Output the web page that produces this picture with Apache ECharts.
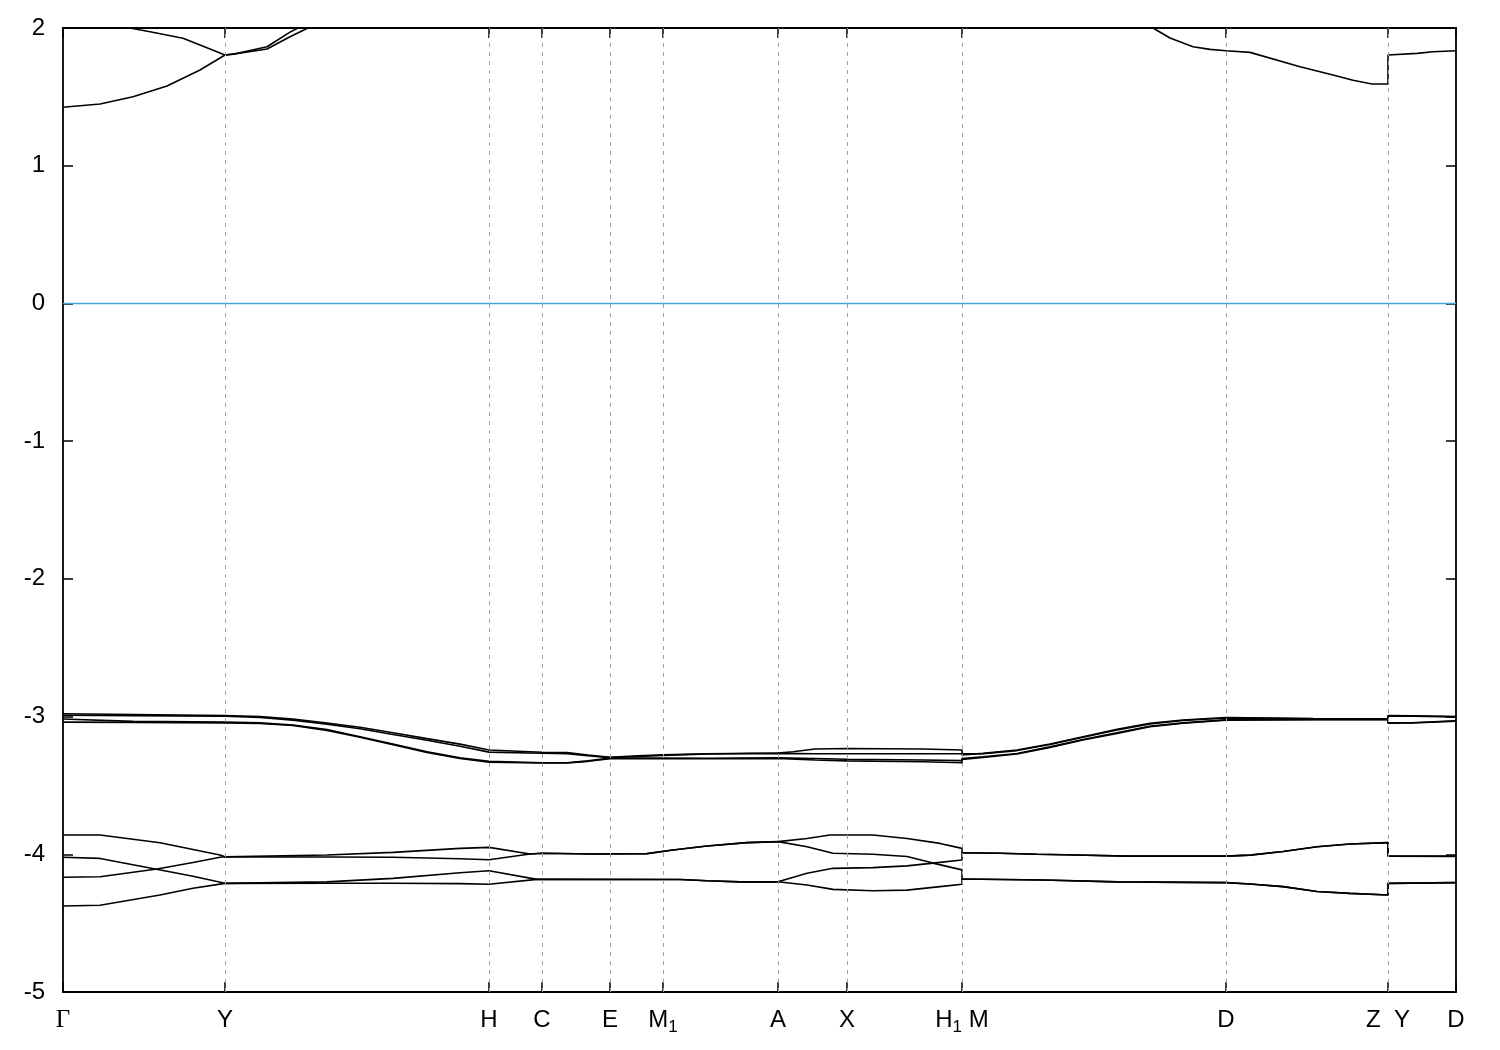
<!DOCTYPE html>
<html>
<head>
<meta charset="utf-8">
<script src="https://cdn.jsdelivr.net/npm/echarts@6/dist/echarts.min.js"></script>
<style>
html,body{margin:0;padding:0;background:#fff;}
#chart{width:1500px;height:1050px;}
</style>
</head>
<body>
<div id="chart"></div>
<script>
// k-path positions and labels
const kPos = [0, 162, 426, 479, 547, 600, 715, 784, 899, 1163, 1325, 1393];
const kLabels = ['Γ', 'Y', 'H', 'C', 'E', 'M_1', 'A', 'X', 'H_1 M', 'D', 'Z  Y', 'D'];
const yTicks = [-5, -4, -3, -2, -1, 0, 1, 2];

// upper (conduction) bands
const up1 = [[0,1.424],[37,1.448],[70,1.501],[104,1.579],[137,1.695],[162,1.804],[170,1.81],[204,1.847],[227,1.937],[245,2.0],[262,2.1]];
const up2 = [[0,2.0],[67,2.0],[87,1.973],[120,1.925],[137,1.877],[162,1.804],[170,1.81],[204,1.864],[227,1.97],[235,2.0],[250,2.1]];
const up3 = [[1060,2.15],[1090,2.0],[1107,1.927],[1130,1.864],[1147,1.845],[1163,1.835],[1187,1.823],[1237,1.719],[1270,1.659],[1290,1.620],[1309,1.593],[1325,1.593],[1325,1.804],[1354,1.816],[1370,1.828],[1393,1.835]];

// bands near -3 eV
const t1 = [[0,-2.980],[70,-2.985],[162,-2.993],[197,-3.0],[230,-3.018],[264,-3.047],[297,-3.078],[330,-3.118],[364,-3.16],[397,-3.2],[426,-3.243],[479,-3.259],[504,-3.262],[525,-3.28],[547,-3.295],[575,-3.285],[600,-3.278],[644,-3.27],[715,-3.265],[730,-3.255],[752,-3.235],[784,-3.232],[860,-3.235],[899,-3.243],[899,-3.279],[920,-3.267],[954,-3.243],[987,-3.199],[1020,-3.146],[1054,-3.093],[1087,-3.049],[1120,-3.025],[1163,-3.008],[1250,-3.015],[1325,-3.016],[1325,-2.993],[1349,-2.995],[1393,-2.999]];
const t2 = [[0,-2.990],[70,-2.993],[162,-2.998],[197,-3.006],[230,-3.026],[264,-3.055],[297,-3.088],[330,-3.13],[364,-3.172],[397,-3.215],[426,-3.258],[479,-3.266],[504,-3.27],[525,-3.285],[547,-3.298],[575,-3.29],[600,-3.282],[644,-3.272],[715,-3.267],[752,-3.27],[784,-3.27],[860,-3.27],[899,-3.27],[899,-3.283],[920,-3.27],[954,-3.247],[987,-3.203],[1020,-3.15],[1054,-3.097],[1087,-3.053],[1120,-3.028],[1163,-3.01],[1250,-3.017],[1325,-3.018],[1325,-2.995],[1349,-2.997],[1393,-3.002]];
const t3 = [[0,-3.018],[70,-3.035],[162,-3.040],[197,-3.046],[230,-3.061],[264,-3.095],[297,-3.146],[330,-3.199],[364,-3.255],[397,-3.3],[426,-3.325],[479,-3.335],[504,-3.335],[525,-3.322],[547,-3.302],[600,-3.302],[644,-3.303],[715,-3.300],[752,-3.305],[784,-3.31],[860,-3.315],[899,-3.32],[899,-3.305],[920,-3.292],[954,-3.268],[987,-3.22],[1020,-3.166],[1054,-3.118],[1087,-3.07],[1120,-3.046],[1163,-3.023],[1250,-3.02],[1325,-3.02],[1325,-3.045],[1349,-3.045],[1393,-3.03]];
const t4 = [[0,-3.040],[70,-3.042],[162,-3.046],[197,-3.05],[230,-3.065],[264,-3.1],[297,-3.15],[330,-3.205],[364,-3.26],[397,-3.305],[426,-3.332],[479,-3.337],[504,-3.337],[525,-3.325],[547,-3.306],[600,-3.306],[644,-3.306],[715,-3.304],[752,-3.315],[784,-3.322],[860,-3.328],[899,-3.335],[899,-3.311],[920,-3.296],[954,-3.272],[987,-3.224],[1020,-3.170],[1054,-3.122],[1087,-3.073],[1120,-3.049],[1163,-3.026],[1250,-3.022],[1325,-3.022],[1325,-3.049],[1349,-3.047],[1393,-3.033]];

// bands near -4 eV
const l1 = [[0,-3.860],[37,-3.860],[97,-3.916],[157,-4.005],[162,-4.018],[264,-4.005],[330,-3.986],[397,-3.957],[426,-3.950],[467,-3.998],[479,-3.993],[530,-3.998],[584,-3.995],[610,-3.969],[644,-3.940],[684,-3.915],[715,-3.908],[744,-3.885],[767,-3.860],[810,-3.860],[844,-3.885],[877,-3.921],[899,-3.957],[899,-3.989],[937,-3.993],[974,-4.0],[1014,-4.005],[1064,-4.013],[1163,-4.013],[1187,-4.006],[1220,-3.98],[1254,-3.945],[1287,-3.925],[1325,-3.915],[1325,-4.013],[1393,-4.013]];
const l2 = [[0,-4.022],[37,-4.030],[87,-4.100],[130,-4.160],[162,-4.211],[264,-4.200],[330,-4.175],[397,-4.134],[426,-4.120],[474,-4.182],[479,-4.182],[617,-4.183],[644,-4.192],[677,-4.200],[715,-4.200],[744,-4.138],[770,-4.102],[810,-4.097],[844,-4.084],[870,-4.064],[899,-4.041],[899,-3.989],[937,-3.993],[974,-4.0],[1014,-4.005],[1064,-4.013],[1163,-4.013],[1187,-4.006],[1220,-3.98],[1254,-3.945],[1287,-3.925],[1325,-3.915],[1325,-4.013],[1393,-4.016]];
const l3 = [[0,-4.167],[37,-4.163],[94,-4.107],[130,-4.060],[157,-4.022],[162,-4.018],[264,-4.020],[330,-4.022],[397,-4.032],[426,-4.040],[467,-3.998],[479,-3.993],[530,-3.998],[584,-3.995],[610,-3.969],[644,-3.940],[684,-3.915],[715,-3.908],[744,-3.945],[770,-3.993],[810,-4.0],[844,-4.016],[870,-4.064],[899,-4.113],[899,-4.180],[980,-4.187],[1054,-4.200],[1163,-4.206],[1187,-4.216],[1220,-4.235],[1254,-4.270],[1287,-4.284],[1325,-4.296],[1325,-4.211],[1393,-4.206]];
const l4 = [[0,-4.376],[37,-4.370],[97,-4.296],[130,-4.247],[162,-4.211],[264,-4.210],[330,-4.210],[397,-4.213],[426,-4.218],[474,-4.182],[479,-4.182],[617,-4.183],[644,-4.192],[677,-4.200],[715,-4.200],[744,-4.223],[770,-4.255],[810,-4.265],[844,-4.260],[877,-4.235],[899,-4.218],[899,-4.180],[980,-4.187],[1054,-4.200],[1163,-4.206],[1187,-4.216],[1220,-4.235],[1254,-4.270],[1287,-4.284],[1325,-4.296],[1325,-4.211],[1393,-4.206]];

const bands = [up1, up2, up3, t1, t2, t3, t4, l1, l2, l3, l4];

const chart = echarts.init(document.getElementById('chart'), null, {renderer: 'canvas'});

function fmtLabel(v) {
  const i = kPos.indexOf(Math.round(v));
  if (i < 0) return '';
  const s = kLabels[i];
  if (s === 'Γ') return '{g|Γ}';
  return '{n|' + s.replace(/_(\d)/g, '}{s|$1}{n|') + '}';
}

const FONT = 'Liberation Sans, Arial, sans-serif';
const axisBlack = {color: '#000', width: 1.8};

const option = {
  animation: false,
  backgroundColor: '#fff',
  grid: {left: 63, right: 44, top: 28, bottom: 58, containLabel: false},
  xAxis: [
    {
      type: 'value', min: 0, max: kPos[kPos.length - 1], position: 'bottom',
      axisLine: {show: true, onZero: false, lineStyle: axisBlack},
      axisTick: {show: true, inside: true, length: 10, customValues: kPos, lineStyle: {color: '#000', width: 1.5}},
      axisLabel: {
        show: true, customValues: kPos, margin: 13, formatter: fmtLabel,
        rich: {
          n: {fontSize: 24, fontFamily: FONT, color: '#000', lineHeight: 30},
          s: {fontSize: 17, fontFamily: FONT, color: '#000', padding: [14, 0, 0, 0]},
          g: {fontSize: 25, fontFamily: 'Liberation Serif, DejaVu Serif, serif', color: '#000', lineHeight: 30}
        }
      },
      splitLine: {show: false}
    },
    {
      type: 'value', min: 0, max: kPos[kPos.length - 1], position: 'top',
      axisLine: {show: true, onZero: false, lineStyle: axisBlack},
      axisTick: {show: true, inside: true, length: 10, customValues: kPos, lineStyle: {color: '#000', width: 1.5}},
      axisLabel: {show: false},
      splitLine: {show: false}
    }
  ],
  yAxis: [
    {
      type: 'value', min: -5, max: 2, interval: 1, position: 'left',
      axisLine: {show: true, onZero: false, lineStyle: axisBlack},
      axisTick: {show: true, inside: true, length: 10, lineStyle: {color: '#000', width: 1.5}},
      axisLabel: {show: true, margin: 18, color: '#000', fontSize: 24, fontFamily: FONT,
        formatter: v => yTicks.indexOf(v) >= 0 ? String(v) : ''},
      splitLine: {show: false}
    },
    {
      type: 'value', min: -5, max: 2, interval: 1, position: 'right',
      axisLine: {show: true, onZero: false, lineStyle: axisBlack},
      axisTick: {show: true, inside: true, length: 10, lineStyle: {color: '#000', width: 1.5}},
      axisLabel: {show: false},
      splitLine: {show: false}
    }
  ],
  series: [
    {
      type: 'line', data: [], z: 1, silent: true,
      markLine: {
        silent: true, symbol: 'none', animation: false,
        label: {show: false},
        data: kPos.slice(1, -1).map(v => ({xAxis: v, lineStyle: {color: '#a0a0a0', type: [4, 5], width: 1}}))
          .concat([{yAxis: 0, lineStyle: {color: '#46a6dc', type: 'solid', width: 1.4}}])
      }
    }
  ].concat(bands.map(b => ({
    type: 'line', data: b, showSymbol: false, symbol: 'none', z: 3, silent: true,
    clip: true, smooth: false,
    lineStyle: {color: '#000', width: 1.6}
  })))
};

chart.setOption(option);
</script>
</body>
</html>
